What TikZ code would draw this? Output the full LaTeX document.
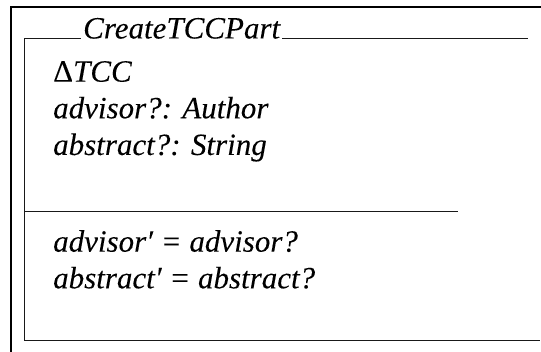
\documentclass[tikz,border=0pt]{standalone}
\usepackage{fontspec}
\setmainfont{Liberation Serif}
\newfontfamily\zfont[FakeBold=0.05]{Liberation Serif}
\tikzset{
  frame/.style={line width=2pt, black},
  zline/.style={line width=1.3pt, black!90},
  ztext/.style={anchor=base west, inner sep=0pt, font=\zfont\fontsize{31}{35}\selectfont\itshape},
}
\begin{document}
\begin{tikzpicture}[x=1pt,y=1pt]
  \useasboundingbox (0,0) rectangle (541,352);
  \clip (0,0) rectangle (541,352);
  % outer page frame
  \draw[frame] (541,344.5) -- (11,344.5) -- (11,-5);

  % schema box corners
  \coordinate (tl) at (24.5,313.5);
  \coordinate (tr) at (528,313.5);
  \coordinate (ml) at (24.5,140.3);
  \coordinate (mr) at (458,140.3);
  \coordinate (bl) at (24.5,11.5);
  \coordinate (br) at (540,11.5);

  % schema name on the top line
  \node[ztext, inner xsep=2pt] (title) at (81,313.5) {CreateTCCPart};
  \draw[zline] (tl) -- (title.west |- tl);
  \draw[zline] (title.east |- tl) -- (tr);

  % declarations
  \node[ztext] (d1) at (53,270.3) {{\upshape Δ}TCC};
  \node[ztext] (d2) at (53,233.7) {advisor?: Author};
  \node[ztext] (d3) at (53,197) {abstract?: String};

  % predicates
  \node[ztext] (p1) at (53,100.3) {advisor′ = advisor?};
  \node[ztext] (p2) at (53,63.7) {abstract′ = abstract?};

  % box outline
  \draw[zline] (tl) -- (bl) -- (br);
  \draw[zline] (ml) -- (mr);
\end{tikzpicture}
\end{document}
